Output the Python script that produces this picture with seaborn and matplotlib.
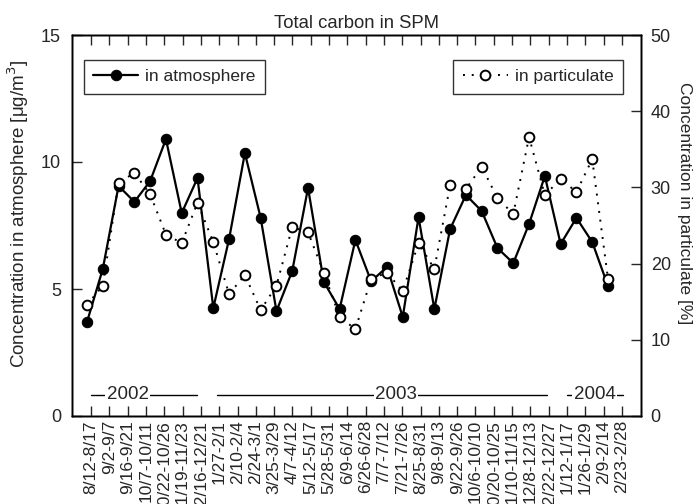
import matplotlib
matplotlib.use("Agg")
import matplotlib.pyplot as plt
import seaborn as sns
import numpy as np
import pandas as pd

# ---- data ----
period_labels = ["8/12-8/17", "9/2-9/7", "9/16-9/21", "10/7-10/11", "10/22-10/26",
                 "11/19-11/23", "12/16-12/21", "1/27-2/1", "2/10-2/4", "2/24-3/1",
                 "3/25-3/29", "4/7-4/12", "5/12-5/17", "5/28-5/31", "6/9-6/14",
                 "6/26-6/28", "7/7-7/12", "7/21-7/26", "8/25-8/31", "9/8-9/13",
                 "9/22-9/26", "10/6-10/10", "10/20-10/25", "11/10-11/15", "12/8-12/13",
                 "12/22-12/27", "1/12-1/17", "1/26-1/29", "2/9-2/14", "2/23-2/28"]

atmosphere = [3.70, 5.79, 9.06, 8.43, 9.25, 10.9, 7.99, 9.37, 4.25, 6.97,
              10.35, 7.80, 4.13, 5.71, 8.98, 5.28, 4.21, 6.93, 5.30, 5.87,
              3.90, 7.83, 4.21, 7.36, 8.70, 8.07, 6.61, 6.02, 7.56, 9.45,
              6.77, 7.80, 6.85, 5.12]
particulate = [14.6, 17.1, 30.6, 31.9, 29.1, 23.8, 22.7, 28.0, 22.8, 16.0,
               18.5, 13.9, 17.1, 24.8, 24.1, 18.8, 13.0, 11.4, 18.0, 18.8,
               16.4, 22.7, 19.3, 30.3, 29.8, 32.7, 28.6, 26.5, 36.6, 29.0,
               31.1, 29.4, 33.7, 18.0]
sample_no = list(range(len(atmosphere)))

years = ["2002", "2003", "2004"]
year_start = [0.0, 6.9, 26.0]     # in period-label units
year_end = [5.8, 24.9, 29.05]
year_text_x = [2.0, 16.65, 27.5]

df = pd.DataFrame({"n": sample_no, "atm": atmosphere, "part": particulate})

# ---- style ----
sns.set_style("ticks")
plt.rcParams["font.family"] = ["Liberation Sans", "DejaVu Sans"]
plt.rcParams["axes.linewidth"] = 1.0

fig = plt.figure(figsize=(6.97, 5.04), dpi=100)
ax = fig.add_axes([72/697, 1-416/504, (641-72)/697, (416-35)/504])

sns.lineplot(data=df, x="n", y="atm", ax=ax, color="black", marker="o",
             markersize=7.5, linewidth=1.6, markeredgecolor="black",
             markerfacecolor="black", label="in atmosphere", zorder=3)
ax.set_ylim(0, 15)
ax.set_yticks([0, 5, 10, 15])
ax.set_xlim(-0.95, 35.09)
ax.set_xticks([])
ax.set_xlabel("")
ax.set_ylabel("Concentration in atmosphere [μg/m$^3$]", fontsize=13.5,
              va="center", ha="center")
ax.yaxis.set_label_coords(-0.095, 0.53)
ax.tick_params(axis="y", direction="in", length=7, width=1, labelsize=13, pad=8)

ax2 = ax.twinx()
sns.lineplot(data=df, x="n", y="part", ax=ax2, color="black", marker="o",
             markersize=7, linewidth=1.4, linestyle=(0, (1, 3.5)),
             markeredgecolor="black", markerfacecolor="white",
             markeredgewidth=1.4, label="in particulate", zorder=4)
ax2.set_ylim(0, 50)
ax2.set_yticks([0, 10, 20, 30, 40, 50])
ax2.set_xlim(-0.95, 35.09)
ax2.set_ylabel("Concentration in particulate [%]", fontsize=12.5, rotation=270,
               va="center", ha="center")
ax2.yaxis.set_label_coords(1.077, 0.56)
ax2.tick_params(axis="y", direction="in", length=7, width=1, labelsize=13, pad=7)
ax2.set_xlabel("")

# period labels axis
axl = ax.twiny()
axl.set_xlim(-1.04, 30.04)
axl.set_xticks(range(len(period_labels)))
axl.set_xticklabels(period_labels, rotation=90, fontsize=12.5)
axl.tick_params(axis="x", which="both", direction="in", length=7, width=1,
                bottom=True, top=True, labelbottom=True, labeltop=False, pad=3)

for yr, s, e, tx in zip(years, year_start, year_end, year_text_x):
    axl.text(tx, 0.83, yr, ha="center", va="center", fontsize=13.5,
             bbox=dict(facecolor="white", edgecolor="none", pad=1.0), zorder=5)
    axl.plot([s, e], [0.83, 0.83], color="black", linewidth=1.0, zorder=4)

ax.set_title("Total carbon in SPM", fontsize=13.3, pad=5)

leg1 = ax.legend(loc="upper left", bbox_to_anchor=(0.005, 0.958), frameon=True,
                 fancybox=False, fontsize=12.5, handlelength=2.6, borderpad=0.55,
                 handletextpad=0.4)
leg1.get_frame().set_edgecolor("black")
leg1.get_frame().set_linewidth(1.0)
leg2 = ax2.legend(loc="upper right", bbox_to_anchor=(0.984, 0.958), frameon=True,
                  fancybox=False, fontsize=12.5, handlelength=2.6, borderpad=0.55,
                  handletextpad=0.4)
leg2.get_frame().set_edgecolor("black")
leg2.get_frame().set_linewidth(1.0)

for a in (ax, ax2, axl):
    for sp in a.spines.values():
        sp.set_visible(True)
        sp.set_color("black")

fig.savefig("out.png", dpi=100)
